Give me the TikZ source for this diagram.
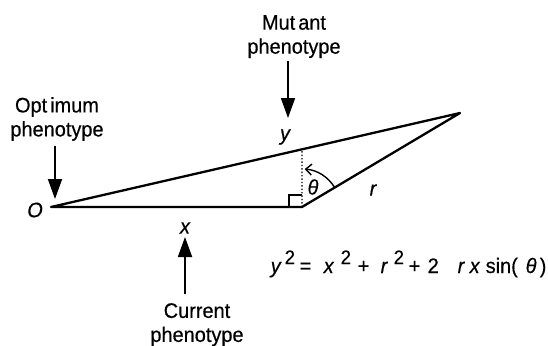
\documentclass[tikz,border=0pt]{standalone}
\usepackage{fontspec}
\setmainfont{Liberation Sans}[FakeStretch=0.95, FakeBold=0.4]
\usetikzlibrary{arrows.meta}
\newcommand\sqrmark{\raisebox{9pt}{\fontsize{19.5}{19.5}\selectfont 2}}
\newcommand\eqpiece[2]{\rlap{\hspace*{#1pt}#2}}
\begin{document}
\begin{tikzpicture}[x=1pt,y=-1pt,
  every node/.style={inner sep=0pt, font=\fontsize{21}{24}\selectfont},
  lbl/.style={align=center, anchor=north},
  edge/.style={line width=2.3pt, line join=round},
  ptr/.style={line width=1.8pt, -{Triangle[length=20pt,width=14pt]}},
  thin/.style={line width=1.4pt},
]
\useasboundingbox (0,0) rectangle (548,345);
% triangle
\coordinate (O) at (51,207);
\coordinate (B) at (302,207);
\coordinate (T) at (460,113);
\coordinate (Bup) at (302,90);
\coordinate (D) at (intersection of O--T and B--Bup);
\draw[edge] (O) -- (B) -- (T) -- cycle;
\draw[dotted, line width=1.4pt] (B) -- (D);
\coordinate (sq1) at (289,207);
\coordinate (sq2) at (289,195);
\coordinate (sq3) at (302,195);
\draw[thin] (sq1) -- (sq2) -- (sq3);
\draw[thin, -{Straight Barb[length=6pt,width=11pt]}] ([shift={(-30.6:38)}]B) arc[start angle=-30.6, end angle=-86, radius=38];
% labels
\node (Olab) at (35,210) {\itshape O};
\node (ylab) at (285,137) {\itshape y};
\node (xlab) at (185,228) {\itshape x};
\node (th) at (313,187) {\itshape θ};
\node (rlab) at (373,190) {\itshape r};
% name labels
\node[lbl] (mut) at (294,15) {Mut\kern3pt ant\\phenotype};
\node[lbl] (opt) at (57,97) {Opt\kern3pt imum\\phenotype};
\node[lbl] (cur) at (197,303) {Current\\phenotype};
\coordinate (mtip) at (288,118);
\coordinate (otip) at (55,199);
\coordinate (ctip) at (185,237);
\draw[ptr, shorten <=2.7pt] (mut.south -| mtip) -- (mtip);
\draw[ptr, shorten <=5pt] (opt.south -| otip) -- (otip);
\draw[ptr, shorten <=9pt] (cur.north -| ctip) -- (ctip);
% equation
\node[anchor=base west] (eq) at (264,273) {\eqpiece{6}{\itshape y}\eqpiece{20}{\sqrmark}\eqpiece{35}{=}\eqpiece{59}{\itshape x}\eqpiece{76}{\sqrmark}\eqpiece{93}{+}\eqpiece{116}{\itshape r}\eqpiece{129}{\sqrmark}\eqpiece{144}{+}\eqpiece{163}{2}\eqpiece{193}{\itshape r}\eqpiece{205}{\itshape x}\eqpiece{221}{sin(}\eqpiece{261}{\itshape θ}\eqpiece{275}{)}};
\end{tikzpicture}
\end{document}
